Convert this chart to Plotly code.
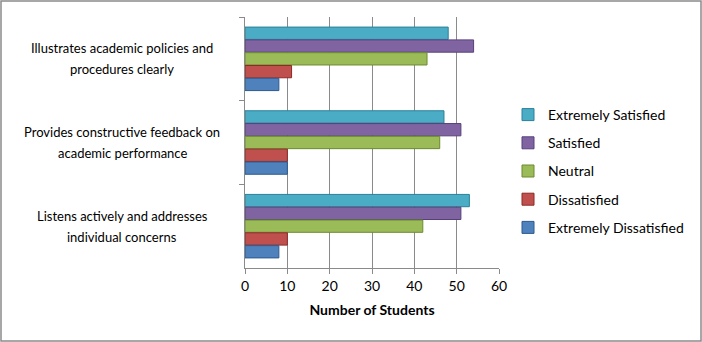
import plotly.graph_objects as go

categories = [
    "Illustrates academic policies and<br>procedures clearly",
    "Provides constructive feedback on<br>academic performance",
    "Listens actively and addresses<br>individual concerns",
]
series_names = ["Extremely Satisfied", "Satisfied", "Neutral", "Dissatisfied", "Extremely Dissatisfied"]
extremely_satisfied = [48, 47, 53]
satisfied = [54, 51, 51]
neutral = [43, 46, 42]
dissatisfied = [11, 10, 10]
extremely_dissatisfied = [8, 10, 8]
x_ticks = [0, 10, 20, 30, 40, 50, 60]

values = [extremely_satisfied, satisfied, neutral, dissatisfied, extremely_dissatisfied]
colors = ["#4bacc6", "#8064a2", "#9bbb59", "#c0504d", "#4f81bd"]
edges = ["#2a8198", "#56407a", "#6b8a2e", "#8c2a27", "#2c5a8f"]

FONT = "Lato, 'Open Sans', sans-serif"

fig = go.Figure()
for i, (name, vals, c, e) in enumerate(zip(series_names, values, colors, edges)):
    fig.add_trace(go.Bar(
        y=categories, x=vals, name=name, orientation="h",
        marker=dict(color=c, line=dict(color=e, width=1)),
        legendgroup=name, legendrank=i + 1,
    ))

annotations = []
for cat in categories:
    l1, l2 = cat.split("<br>")
    for txt, ys in ((l1, 10.5), (l2, -10.5)):
        annotations.append(dict(
            xref="paper", yref="y", x=(122 - 245) / 254, y=cat, text=txt,
            showarrow=False, xanchor="center", yanchor="middle", yshift=ys,
            font=dict(size=13, family=FONT, color="black"),
        ))

fig.update_layout(
    autosize=False,
    barmode="group",
    bargap=0.235,
    bargroupgap=0.04,
    width=702, height=342,
    margin=dict(l=245, r=203, t=17, b=74, autoexpand=False),
    paper_bgcolor="white", plot_bgcolor="white",
    font=dict(family=FONT, size=14, color="black"),
    legend=dict(
        x=(508 - 245) / 254, y=(268 - 171) / 251, xanchor="left", yanchor="middle",
        traceorder="grouped", tracegroupgap=7,
        font=dict(size=14, family=FONT),
        itemwidth=30, bgcolor="rgba(0,0,0,0)",
    ),
    xaxis=dict(
        range=[0, 60], tickvals=x_ticks, showgrid=True, gridcolor="#8a8a8a", gridwidth=1,
        showline=True, linecolor="#8a8a8a", ticks="outside", tickcolor="#8a8a8a", ticklen=5,
        title=dict(text="<b>Number of Students</b>", font=dict(size=14, family=FONT), standoff=12),
        tickfont=dict(size=14, family=FONT), zeroline=False, automargin=False,
    ),
    yaxis=dict(
        type="category", tickson="boundaries", ticks="outside", ticklen=5, tickcolor="#8a8a8a",
        showline=True, linecolor="#8a8a8a", showgrid=False, autorange="reversed",
        showticklabels=False, automargin=False,
    ),
    annotations=annotations,
    shapes=[dict(
        type="rect", xref="paper", yref="paper",
        x0=(1 - 245) / 254, x1=(701 - 245) / 254,
        y0=(268 - 341) / 251, y1=(268 - 1) / 251,
        line=dict(color="#8a8a8a", width=1.5), fillcolor="rgba(0,0,0,0)", layer="below",
    )],
)

fig.write_html(
    "out.html",
    config={"responsive": False, "displayModeBar": False},
    post_script="document.body.style.margin='0';document.body.style.overflow='hidden';",
)
